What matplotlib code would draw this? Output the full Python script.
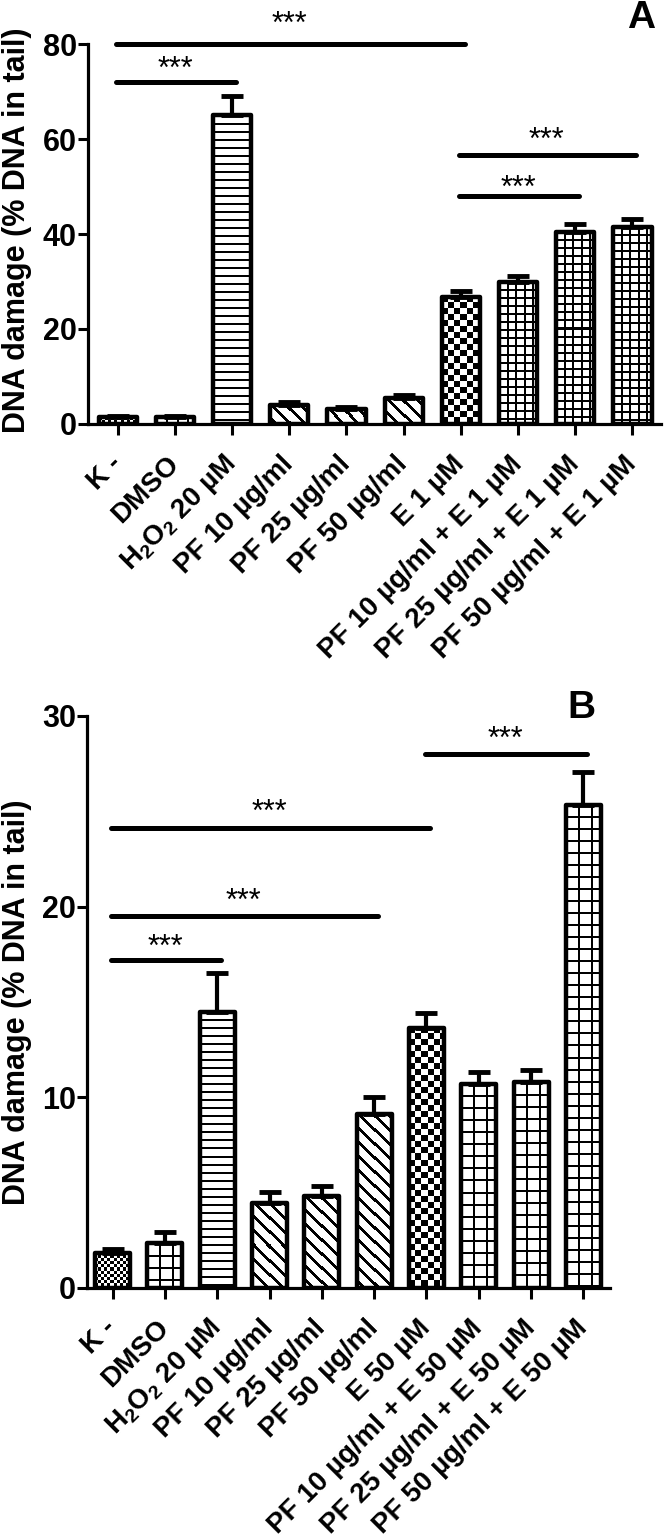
import numpy as np
import matplotlib

matplotlib.use("Agg")
import matplotlib.pyplot as plt

plt.rcParams["font.family"] = ["Liberation Sans", "DejaVu Sans"]
plt.rcParams["font.weight"] = "bold"
plt.rcParams["mathtext.fontset"] = "custom"
plt.rcParams["mathtext.rm"] = "Liberation Sans:bold"
plt.rcParams["mathtext.bf"] = "Liberation Sans:bold"
plt.rcParams["mathtext.it"] = "Liberation Sans:bold:italic"

# ── data ────────────────────────────────────────────────────────────────
labels_a = [
    "K -", "DMSO", r"$\mathbf{H_2O_2}$ 20 µM", "PF 10 µg/ml", "PF 25 µg/ml",
    "PF 50 µg/ml", "E 1 µM", "PF 10 µg/ml + E 1 µM", "PF 25 µg/ml + E 1 µM",
    "PF 50 µg/ml + E 1 µM",
]
mean_a = [1.4, 1.4, 65.0, 3.9, 3.2, 5.4, 26.8, 29.9, 40.5, 41.5]
err_a = [0.3, 0.3, 4.1, 0.7, 0.3, 0.6, 1.2, 1.2, 1.6, 1.6]
# (from bar, to bar, line height, stars height)
sig_a = [(0, 6, 80.0, 85.5), (0, 2, 72.0, 76.0), (6, 9, 56.6, 61.0), (6, 8, 48.0, 50.9)]

labels_b = [
    "K -", "DMSO", r"$\mathbf{H_2O_2}$ 20 µM", "PF 10 µg/ml", "PF 25 µg/ml",
    "PF 50 µg/ml", "E 50 µM", "PF 10 µg/ml + E 50 µM", "PF 25 µg/ml + E 50 µM",
    "PF 50 µg/ml + E 50 µM",
]
mean_b = [1.85, 2.35, 14.5, 4.48, 4.8, 9.12, 13.66, 10.7, 10.78, 25.35]
err_b = [0.2, 0.6, 2.0, 0.55, 0.55, 0.92, 0.76, 0.65, 0.65, 1.72]
sig_b = [(6, 9, 28.0, 29.1), (0, 6, 24.1, 25.3), (0, 5, 19.5, 20.6), (0, 2, 17.2, 18.2)]

# fill pattern per bar: (kind, step in px)
fill_a = [("fine", 3), ("grid", 10), ("hlines", 8), ("diag", 14), ("diag", 14),
          ("diag", 14), ("checker", 6), ("grid", 8), ("grid", 8), ("grid", 8)]
fill_b = [("fine", 3), ("grid", 12), ("hlines", 8), ("diag", 14), ("diag", 14),
          ("diag", 14), ("checker", 6), ("grid", 12), ("grid", 12), ("grid", 12)]


def fill_pattern(ax, patch, kind, step):
    """Paint a black/white pattern inside a bar, clipped to the bar outline."""
    x0, y0 = patch.get_x(), patch.get_y()
    x1, y1 = x0 + patch.get_width(), y0 + patch.get_height()
    (px0, py0), (px1, py1) = ax.transData.transform([(x0, y0), (x1, y1)])
    w = max(int(round(px1 - px0)), 1)
    h = max(int(round(py1 - py0)), 1)
    yy, xx = np.mgrid[0:h, 0:w]
    if kind == "hlines":
        mask = (yy % step) < 2
    elif kind == "grid":
        mask = ((yy % step) < 2) | ((xx % step) < 2)
    elif kind == "diag":
        mask = ((xx - yy) % step) < 4
    else:  # checker / fine
        mask = ((xx // step) + (yy // step)) % 2 == 0
    img = np.where(mask, 0.0, 1.0)
    im = ax.imshow(img, cmap="gray", vmin=0, vmax=1, extent=(x0, x1, y0, y1),
                   interpolation="nearest", aspect="auto", zorder=2)
    im.set_clip_path(patch)


def draw_panel(ax, labels, means, errs, fills, sigs, ymax, yticks, xlim):
    x = np.arange(len(labels))
    ax.set_xlim(*xlim)
    ax.set_ylim(0, ymax)

    bars = ax.bar(x, means, width=0.67, facecolor="none", edgecolor="black",
                  linewidth=3.2, zorder=3)
    for b in bars:
        b.set_joinstyle("round")
    ax.errorbar(x, means, yerr=[np.zeros(len(x)), errs], fmt="none",
                ecolor="black", elinewidth=3, capsize=8, capthick=3.5, zorder=2.5)
    for b, (kind, step) in zip(bars, fills):
        fill_pattern(ax, b, kind, step)

    for i, j, yl, ys in sigs:
        ax.plot([i - 0.03, j + 0.07], [yl, yl], color="black", lw=3.6,
                solid_capstyle="round", clip_on=False, zorder=4)
        ax.annotate("***", xy=((i + j) / 2, ys), xytext=(0, -5),
                    textcoords="offset points", ha="center", va="center",
                    fontsize=22, fontweight="normal", annotation_clip=False)

    for side in ("top", "right"):
        ax.spines[side].set_visible(False)
    for side in ("left", "bottom"):
        ax.spines[side].set_linewidth(2.3)
    ax.set_yticks(yticks)
    ax.set_xticks(x)
    ax.set_xticklabels(labels)
    ax.tick_params(axis="y", length=7, width=2.2, labelsize=22, pad=1)
    ax.tick_params(axis="x", length=8, width=2.2, labelsize=20, pad=18)
    plt.setp(ax.get_xticklabels(), rotation=45, ha="right", va="center",
             rotation_mode="anchor")
    ax.set_ylabel("DNA damage (% DNA in tail)", fontsize=22, fontweight="bold")
    ax.set_xlim(*xlim)
    ax.set_ylim(0, ymax)


fig = plt.figure(figsize=(6.65, 15.39), dpi=100)
ax_a = fig.add_axes([0.1323, 0.7245, 0.8617, 0.2469])
ax_b = fig.add_axes([0.1308, 0.1631, 0.7865, 0.3717])

draw_panel(ax_a, labels_a, mean_a, err_a, fill_a, sig_a, 80, [0, 20, 40, 60, 80], (-0.52, 9.5))
draw_panel(ax_b, labels_b, mean_b, err_b, fill_b, sig_b, 30, [0, 10, 20, 30], (-0.49, 9.51))

ax_a.yaxis.set_label_coords(-0.098, 0.51)
ax_b.yaxis.set_label_coords(-0.105, 0.5)

fig.text(641 / 665, 1 - 18 / 1539, "A", ha="center", va="center", fontsize=28, fontweight="bold")
fig.text(581 / 665, 1 - 708 / 1539, "B", ha="center", va="center", fontsize=28, fontweight="bold")

fig.savefig("out.png", dpi=100)
plt.close(fig)
